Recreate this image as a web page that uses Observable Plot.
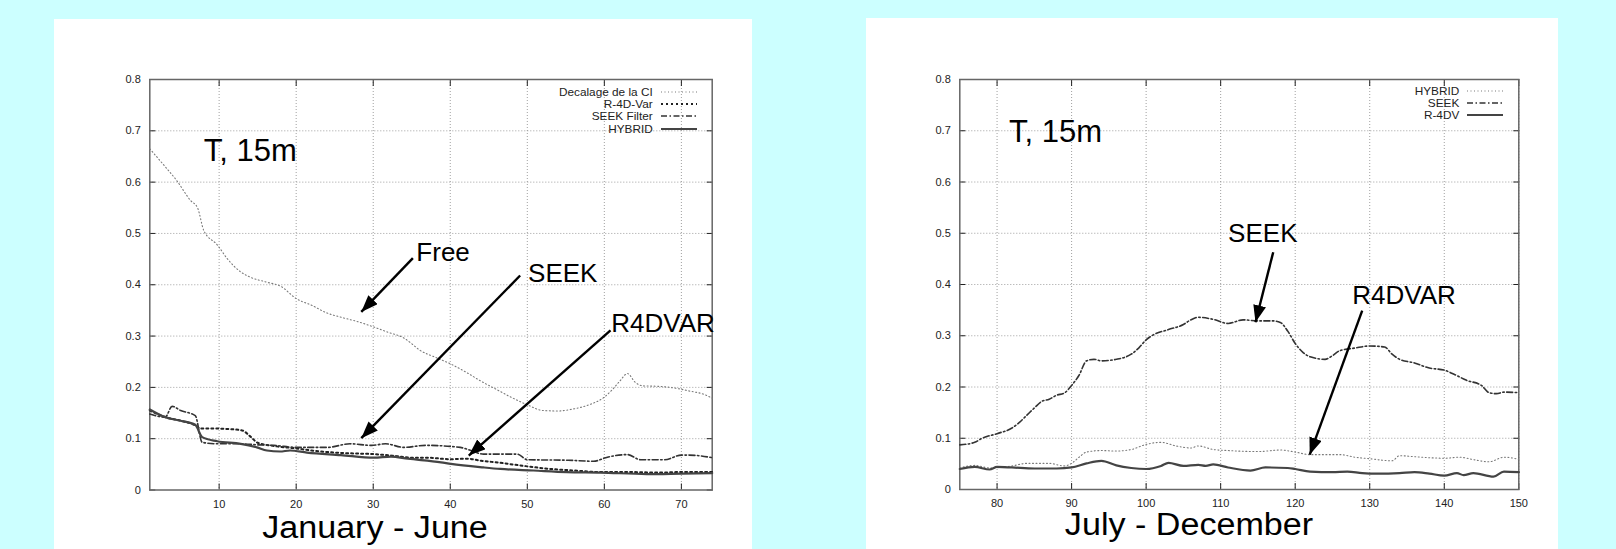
<!DOCTYPE html>
<html><head><meta charset="utf-8">
<script src="https://cdn.jsdelivr.net/npm/d3@7"></script>
<script src="https://cdn.jsdelivr.net/npm/@observablehq/plot@0.6"></script>
<style>
html,body{margin:0;padding:0;background:#ccffff;width:1616px;height:549px;overflow:hidden;font-family:"Liberation Sans",Arial,sans-serif}
.panel{position:absolute;background:#fff}
#p1{left:54px;top:19px;width:698px;height:530px}
#p2{left:866px;top:18px;width:692px;height:531px}
.panel svg{position:absolute;left:0;top:0;overflow:visible}
.legend{position:absolute;font-size:11.8px;color:#222}
.legend .row{display:flex;justify-content:flex-end;align-items:center;height:12.2px;line-height:12px}
.legend .row svg{position:static;margin-left:8px}
.xlab{position:absolute;font-size:31px;line-height:31px;color:#000;white-space:nowrap;transform:translateX(-50%) scaleX(1.1);transform-origin:center}
</style></head><body>
<div class="panel" id="p1"></div>
<div class="panel" id="p2"></div>
<script>
// ---------- data ----------
const yTicks = [0, 0.1, 0.2, 0.3, 0.4, 0.5, 0.6, 0.7, 0.8];
const xTicksLeft = [10, 20, 30, 40, 50, 60, 70];
const xTicksRight = [80, 90, 100, 110, 120, 130, 140, 150];

// Left panel: January - June
const freeDays = [1,3,4.5,6.3,7.2,8,9.8,11,12.8,14,16.2,18,20,22,24,26,28,30,32,34,35,36,38,40,42,44,46,48,50,52,54,56,58,60,61,62,63,64,65,67,69,71,73,74];
const freeVals = [0.665,0.63,0.603,0.564,0.55,0.506,0.477,0.452,0.425,0.415,0.405,0.397,0.373,0.36,0.345,0.336,0.328,0.318,0.307,0.296,0.285,0.273,0.259,0.246,0.23,0.212,0.196,0.18,0.166,0.155,0.154,0.158,0.166,0.181,0.195,0.212,0.227,0.21,0.203,0.202,0.199,0.193,0.186,0.179];

const r4dDays = [1,3,5,7,7.5,9,11,13,14,15,17,20,22,25,28,30,33,35,37,40,42.2,44,46.5,49.5,53,56,59.5,63,67,70,74];
const r4dVals = [0.155,0.142,0.135,0.125,0.12,0.12,0.119,0.116,0.105,0.092,0.086,0.081,0.077,0.073,0.071,0.07,0.066,0.063,0.063,0.06,0.061,0.057,0.053,0.047,0.041,0.038,0.035,0.035,0.034,0.035,0.035];

const seekDays = [1,3,3.9,5,6.9,7.8,9.8,12.8,15,17.1,20.1,24,27,29.8,31.6,34,36.8,41.3,42.5,44.3,48.7,50,55.3,58.6,60.4,63,64.7,67.8,70,71,74];
const seekVals = [0.148,0.142,0.163,0.155,0.145,0.093,0.09,0.09,0.088,0.087,0.083,0.083,0.09,0.087,0.09,0.083,0.087,0.083,0.078,0.07,0.07,0.059,0.058,0.056,0.064,0.069,0.059,0.059,0.068,0.068,0.063];

const hybDays = [1,3,5,6.9,7.8,9.75,12.8,14.9,16.2,17.9,19.2,21.4,25.8,30.1,32.3,34.5,38.8,40.1,44.3,46.5,50.8,55.1,59.5,65.5,70,74];
const hybVals = [0.157,0.142,0.135,0.127,0.103,0.095,0.09,0.083,0.077,0.075,0.077,0.073,0.068,0.063,0.065,0.061,0.054,0.051,0.044,0.041,0.038,0.035,0.034,0.031,0.032,0.033];

// Right panel: July - December
const hyb2Days = [75,77,79,82,84,87,89,90,91,92,94,96,98,100,102,104,106,107,109,111,115,118,120,122,124,126,128,130,133,134,136,138,140,142,144,146,148,150];
const hyb2Vals = [0.042,0.047,0.042,0.046,0.051,0.051,0.046,0.051,0.063,0.073,0.076,0.075,0.078,0.088,0.092,0.085,0.081,0.085,0.078,0.076,0.074,0.077,0.073,0.068,0.068,0.068,0.063,0.06,0.056,0.066,0.064,0.062,0.061,0.063,0.058,0.054,0.063,0.059];

const seek2Days = [75,77,78,80,82,83,84,85,86,87,88,89,90,91,92,93,94,96,98,99,100,101,103,105,106,107,109,111,113,115,117,118,119,120,121,122,124,125,126,128,130,132,133,134,136,138,140,141,143,145,146,147,148,150];
const seek2Vals = [0.087,0.092,0.1,0.109,0.12,0.131,0.145,0.159,0.172,0.176,0.184,0.188,0.203,0.223,0.251,0.254,0.251,0.254,0.264,0.276,0.292,0.302,0.312,0.322,0.331,0.336,0.332,0.324,0.331,0.329,0.329,0.326,0.309,0.285,0.268,0.259,0.254,0.261,0.271,0.276,0.28,0.278,0.264,0.254,0.247,0.237,0.233,0.227,0.213,0.203,0.189,0.187,0.19,0.189];

const r4d2Days = [75,77,79,80,82,85,88,90,92,94,96,98,100,102,103,105,107,108,109,111,114,116,119,120,122,125,127,129,131,134,136,138,140,141.7,142.6,143.9,146.6,148,150];
const r4d2Vals = [0.04,0.044,0.039,0.044,0.043,0.041,0.041,0.043,0.051,0.056,0.047,0.042,0.04,0.046,0.052,0.046,0.048,0.046,0.049,0.043,0.037,0.043,0.042,0.04,0.035,0.034,0.035,0.032,0.031,0.032,0.034,0.031,0.027,0.032,0.028,0.032,0.025,0.035,0.034];

// annotations (data coordinates)
const leftTitle = [{x: 8.0, y: 0.642, text: "T, 15m"}];
const leftNotes = [
  {x: 35.6, y: 0.447, text: "Free"},
  {x: 50.1, y: 0.405, text: "SEEK"},
  {x: 60.9, y: 0.3075, text: "R4DVAR"}
];
const leftArrows = [
  {x1: 35.15, y1: 0.452, x2: 28.45, y2: 0.347},
  {x1: 49.07, y1: 0.418, x2: 28.45, y2: 0.101},
  {x1: 60.8, y1: 0.311, x2: 42.4, y2: 0.067}
];
const rightTitle = [{x: 81.6, y: 0.679, text: "T, 15m"}];
const rightNotes = [
  {x: 111.0, y: 0.4825, text: "SEEK"},
  {x: 127.65, y: 0.361, text: "R4DVAR"}
];
const rightArrows = [
  {x1: 117.05, y1: 0.463, x2: 114.67, y2: 0.3264},
  {x1: 128.99, y1: 0.349, x2: 121.95, y2: 0.068}
];

// ---------- styles ----------
const S = {
  dotThin: {stroke: "#7a7a7a", strokeWidth: 1.1, strokeDasharray: "1,2.5"},
  dotBold: {stroke: "#222", strokeWidth: 2, strokeDasharray: "2,3"},
  dashDot: {stroke: "#333", strokeWidth: 1.6, strokeDasharray: "6,2.5,1.5,2.5"},
  solid:   {stroke: "#444", strokeWidth: 2.2}
};

const rows = (days, vals) => days.map((d, i) => ({day: d, value: vals[i]}));
const fmtY = d => d === 0 ? "0" : d3.format(".1f")(d);

function arrowHead(color) {
  const m = d3.create("svg:marker")
    .attr("viewBox", "-17 -6.5 17 13")
    .attr("markerWidth", 17).attr("markerHeight", 13)
    .attr("markerUnits", "userSpaceOnUse")
    .attr("orient", "auto")
    .attr("refX", 0).attr("refY", 0)
    .attr("fill", "#000").attr("stroke", "none");
  m.append("path").attr("d", "M0,0L-17,-6.5L-17,6.5Z");
  return m.node();
}

function panel(cfg) {
  const el = document.getElementById(cfg.id);
  const lineMarks = cfg.series.map(s =>
    Plot.line(rows(s.days, s.vals), {x: "day", y: "value", curve: "monotone-x", ...S[s.style]}));
  const plot = Plot.plot({
    width: cfg.width, height: cfg.height,
    marginLeft: cfg.ml, marginRight: cfg.mr, marginTop: cfg.mt, marginBottom: cfg.mb,
    style: {fontFamily: "'Liberation Sans', Arial, sans-serif", fontSize: "11px", color: "#222", background: "transparent", overflow: "visible"},
    x: {domain: cfg.xDomain},
    y: {domain: [0, 0.8]},
    marks: [
      Plot.gridX(cfg.xTicks, {stroke: "#888", strokeOpacity: 0.8, strokeDasharray: "1,2"}),
      Plot.gridY(yTicks.slice(1, -1), {stroke: "#888", strokeOpacity: 0.8, strokeDasharray: "1,2"}),
      Plot.axisX(cfg.xTicks, {anchor: "bottom", tickSize: 0, tickPadding: 10, tickFormat: d => String(d), label: null, fontSize: 11}),
      Plot.axisX(cfg.xTicks, {anchor: "bottom", tickSize: -6, tickFormat: () => null, label: null, stroke: "#222"}),
      Plot.axisX(cfg.xTicks, {anchor: "top", tickSize: -6, tickFormat: () => null, label: null, stroke: "#222"}),
      Plot.axisY(yTicks, {anchor: "left", tickSize: 0, tickPadding: 9, tickFormat: fmtY, label: null, fontSize: 11}),
      Plot.axisY(yTicks, {anchor: "left", tickSize: -6, tickFormat: () => null, label: null, stroke: "#222"}),
      Plot.axisY(yTicks, {anchor: "right", tickSize: -6, tickFormat: () => null, label: null, stroke: "#222"}),
      Plot.frame({stroke: "#666", strokeWidth: 1.5}),
      ...lineMarks,
      Plot.link(cfg.arrows, {x1: "x1", y1: "y1", x2: "x2", y2: "y2", stroke: "#000", strokeWidth: 2.4, markerEnd: arrowHead}),
      Plot.text(cfg.title, {x: "x", y: "y", text: "text", textAnchor: "start", lineAnchor: "bottom", fontSize: 31, fill: "#000"}),
      Plot.text(cfg.notes, {x: "x", y: "y", text: "text", textAnchor: "start", lineAnchor: "bottom", fontSize: 26, fill: "#000"})
    ]
  });
  el.appendChild(plot);

  // legend (top-right inside frame)
  const lg = document.createElement("div");
  lg.className = "legend";
  lg.style.right = cfg.legendRight + "px";
  lg.style.top = cfg.legendTop + "px";
  for (const s of cfg.series) {
    const row = document.createElement("div");
    row.className = "row";
    row.appendChild(document.createTextNode(s.name));
    const sv = d3.create("svg").attr("width", 36).attr("height", 6);
    const st = S[s.style];
    sv.append("line").attr("x1", 0).attr("x2", 36).attr("y1", 3).attr("y2", 3)
      .attr("stroke", st.stroke).attr("stroke-width", st.strokeWidth)
      .attr("stroke-dasharray", st.strokeDasharray || null);
    row.appendChild(sv.node());
    lg.appendChild(row);
  }
  el.appendChild(lg);

  const xl = document.createElement("div");
  xl.className = "xlab";
  xl.textContent = cfg.xLabel;
  xl.style.left = cfg.xLabelX + "px";
  xl.style.top = cfg.xLabelTop + "px";
  el.appendChild(xl);
}

panel({
  id: "p1", width: 698, height: 530, ml: 95.3, mr: 40.3, mt: 60, mb: 59.5,
  xDomain: [1, 74], xTicks: xTicksLeft,
  series: [
    {name: "Decalage de la CI", days: freeDays, vals: freeVals, style: "dotThin"},
    {name: "R-4D-Var", days: r4dDays, vals: r4dVals, style: "dotBold"},
    {name: "SEEK Filter", days: seekDays, vals: seekVals, style: "dashDot"},
    {name: "HYBRID", days: hybDays, vals: hybVals, style: "solid"}
  ],
  title: leftTitle, notes: leftNotes, arrows: leftArrows,
  legendRight: 55.3, legendTop: 67,
  xLabel: "January - June", xLabelX: 321.3, xLabelTop: 493
});

panel({
  id: "p2", width: 692, height: 531, ml: 93.3, mr: 39.7, mt: 61, mb: 60,
  xDomain: [75, 150], xTicks: xTicksRight,
  series: [
    {name: "HYBRID", days: hyb2Days, vals: hyb2Vals, style: "dotThin"},
    {name: "SEEK", days: seek2Days, vals: seek2Vals, style: "dashDot"},
    {name: "R-4DV", days: r4d2Days, vals: r4d2Vals, style: "solid"}
  ],
  title: rightTitle, notes: rightNotes, arrows: rightArrows,
  legendRight: 54.7, legendTop: 66.7,
  xLabel: "July - December", xLabelX: 323, xLabelTop: 491
});
</script>
</body></html>
